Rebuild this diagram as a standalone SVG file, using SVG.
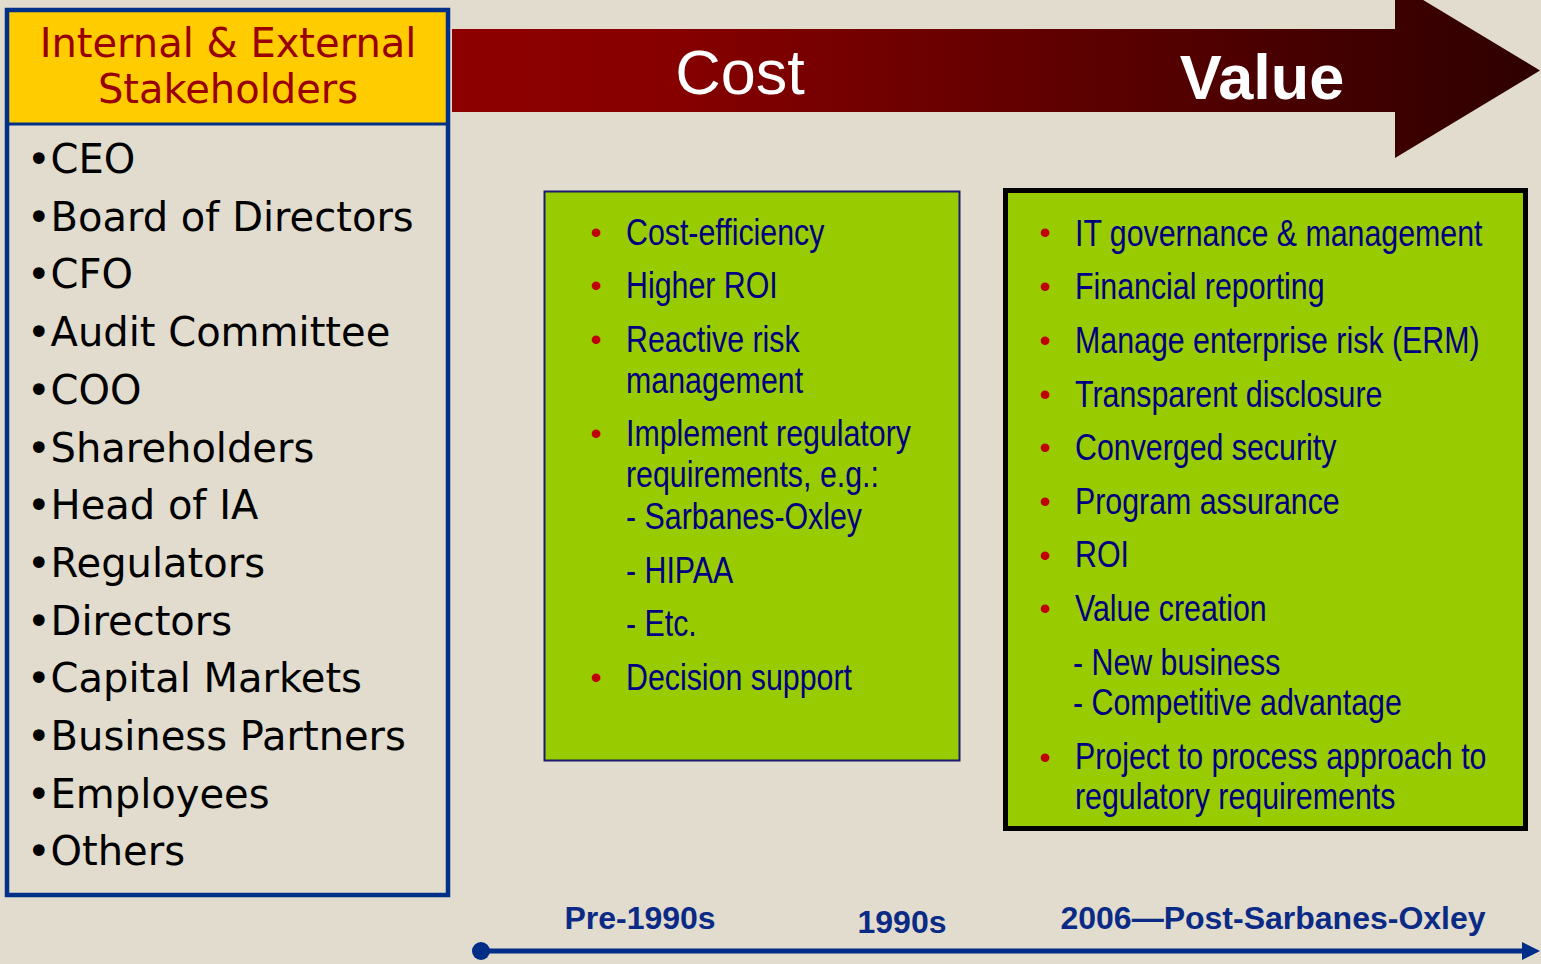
<svg xmlns="http://www.w3.org/2000/svg" width="1541" height="964" viewBox="0 0 1541 964">
<style>
.stk{font-family:"DejaVu Sans","Verdana",sans-serif;font-size:40px;fill:#000}
.hdr{font-family:"DejaVu Sans","Verdana",sans-serif;font-size:40px;fill:#990000;text-anchor:middle}
.bx{font-family:"Liberation Sans","Arial",sans-serif;font-size:37px;fill:#000080}
.bul{font-family:"Liberation Sans","Arial",sans-serif;font-size:32px;fill:#C00000;text-anchor:middle}
.tl{font-family:"Liberation Sans","Arial",sans-serif;font-size:32px;font-weight:bold;fill:#0A2A86}
.green{fill:#99CC00}
</style>
<defs>
<linearGradient id="arrowGrad" x1="452" y1="0" x2="1540" y2="0" gradientUnits="userSpaceOnUse">
<stop offset="0" stop-color="#8E0000"/>
<stop offset="0.2" stop-color="#870000"/>
<stop offset="1" stop-color="#2E0000"/>
</linearGradient>
</defs>
<rect width="1541" height="964" fill="#E1DCCD"/>

<g id="cost-value-arrow">
<polygon points="452,29 1395,29 1395,-17 1540,70.5 1395,158 1395,112 452,112" fill="url(#arrowGrad)"/>
<text x="740" y="94" font-family="Liberation Sans, Arial, sans-serif" font-size="63" fill="#FFFFFF" text-anchor="middle">Cost</text>
<text x="1262" y="99" font-family="Liberation Sans, Arial, sans-serif" font-size="63" font-weight="bold" fill="#FFFFFF" text-anchor="middle">Value</text>
</g>

<g id="stakeholders">
<rect x="7" y="10" width="441" height="114" fill="#FFCC00"/>
<line x1="7" y1="124" x2="448" y2="124" stroke="#003087" stroke-width="3"/>
<rect x="7" y="10" width="441" height="885" fill="none" stroke="#003087" stroke-width="4.5"/>
<text class="hdr" x="228" y="57">Internal &amp; External</text>
<text class="hdr" x="228" y="103">Stakeholders</text>
<text class="stk" x="27" y="173">•CEO</text>
<text class="stk" x="27" y="230.7">•Board of Directors</text>
<text class="stk" x="27" y="288.4">•CFO</text>
<text class="stk" x="27" y="346.1">•Audit Committee</text>
<text class="stk" x="27" y="403.8">•COO</text>
<text class="stk" x="27" y="461.5">•Shareholders</text>
<text class="stk" x="27" y="519.2">•Head of IA</text>
<text class="stk" x="27" y="576.9">•Regulators</text>
<text class="stk" x="27" y="634.6">•Directors</text>
<text class="stk" x="27" y="692.3">•Capital Markets</text>
<text class="stk" x="27" y="750">•Business Partners</text>
<text class="stk" x="27" y="807.7">•Employees</text>
<text class="stk" x="27" y="865.4">•Others</text>
</g>

<g id="cost-box">
<rect class="green" x="544.5" y="191.5" width="415" height="569" stroke="#1A1A70" stroke-width="2"/>
<text class="bul" x="596" y="243">•</text>
<text class="bul" x="596" y="296">•</text>
<text class="bul" x="596" y="350">•</text>
<text class="bul" x="596" y="444">•</text>
<text class="bul" x="596" y="688">•</text>
<g transform="translate(626 0) scale(0.82 1)">
<text class="bx" x="0" y="245">Cost-efficiency</text>
<text class="bx" x="0" y="298">Higher ROI</text>
<text class="bx" x="0" y="352">Reactive risk</text>
<text class="bx" x="0" y="393">management</text>
<text class="bx" x="0" y="446">Implement regulatory</text>
<text class="bx" x="0" y="487">requirements, e.g.:</text>
<text class="bx" x="0" y="529">- Sarbanes-Oxley</text>
<text class="bx" x="0" y="583">- HIPAA</text>
<text class="bx" x="0" y="636">- Etc.</text>
<text class="bx" x="0" y="690">Decision support</text>
</g>
</g>

<g id="value-box">
<rect class="green" x="1005.5" y="190.5" width="520" height="638" stroke="#000000" stroke-width="5"/>
<text class="bul" x="1045" y="243">•</text>
<text class="bul" x="1045" y="297">•</text>
<text class="bul" x="1045" y="351">•</text>
<text class="bul" x="1045" y="405">•</text>
<text class="bul" x="1045" y="458">•</text>
<text class="bul" x="1045" y="512">•</text>
<text class="bul" x="1045" y="566">•</text>
<text class="bul" x="1045" y="619">•</text>
<text class="bul" x="1045" y="768">•</text>
<g transform="translate(1075 0) scale(0.82 1)">
<text class="bx" x="0" y="246">IT governance &amp; management</text>
<text class="bx" x="0" y="299">Financial reporting</text>
<text class="bx" x="0" y="353">Manage enterprise risk (ERM)</text>
<text class="bx" x="0" y="407">Transparent disclosure</text>
<text class="bx" x="0" y="460">Converged security</text>
<text class="bx" x="0" y="514">Program assurance</text>
<text class="bx" x="0" y="567">ROI</text>
<text class="bx" x="0" y="621">Value creation</text>
<text class="bx" x="-2.5" y="675">- New business</text>
<text class="bx" x="-2.5" y="715">- Competitive advantage</text>
<text class="bx" x="0" y="769">Project to process approach to</text>
<text class="bx" x="0" y="809">regulatory requirements</text>
</g>
</g>

<g id="timeline">
<line x1="481" y1="951" x2="1526" y2="951" stroke="#002D87" stroke-width="5"/>
<circle cx="481" cy="951" r="9" fill="#002D87"/>
<polygon points="1522,942 1540,951 1522,960" fill="#002D87"/>
<text class="tl" x="640" y="929" text-anchor="middle">Pre-1990s</text>
<text class="tl" x="902" y="933" text-anchor="middle">1990s</text>
<text class="tl" x="1273" y="929" text-anchor="middle">2006—Post-Sarbanes-Oxley</text>
</g>
</svg>
